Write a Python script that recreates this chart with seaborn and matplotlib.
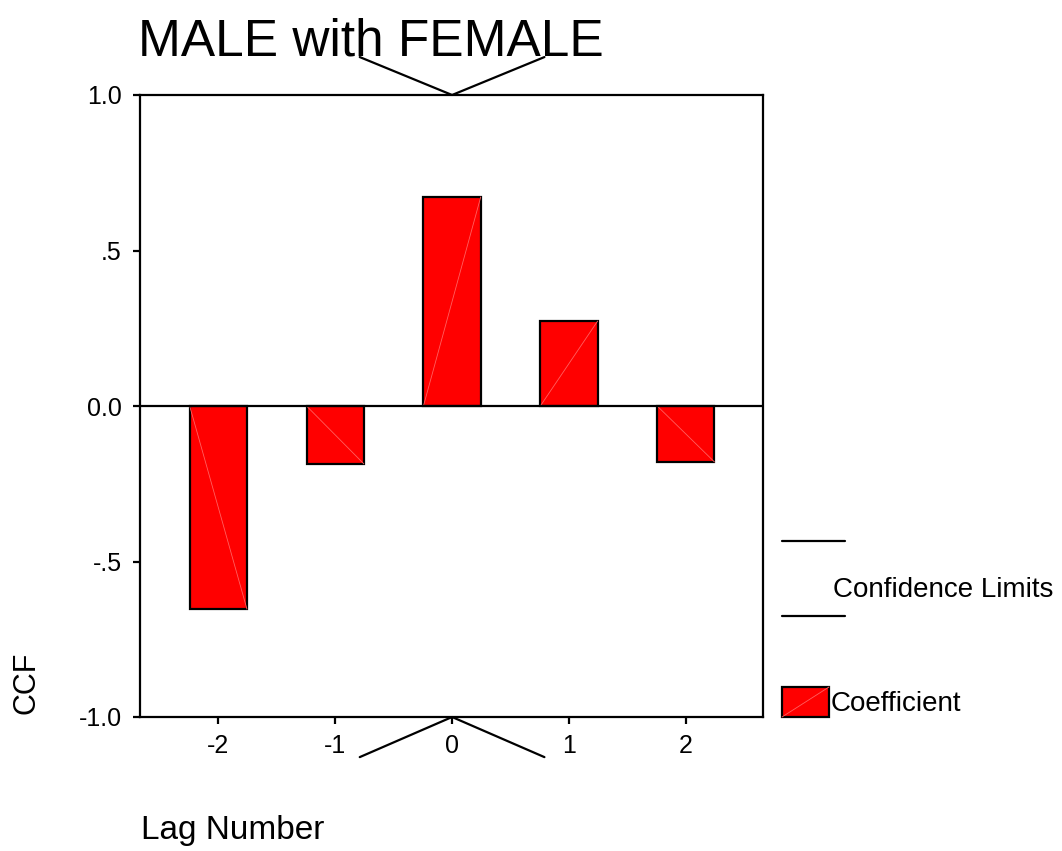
import matplotlib
matplotlib.use("Agg")
import matplotlib.pyplot as plt
import seaborn as sns
import pandas as pd
from matplotlib.lines import Line2D
from matplotlib.patches import Rectangle

# Cross-correlation coefficients by lag
lags = [-2, -1, 0, 1, 2]
ccf = [-0.653, -0.186, 0.672, 0.273, -0.180]

# Confidence limit segments around lag 0
conf_lags = [-0.79, 0.0, 0.79]
conf_upper = [1.122, 1.0, 1.122]
conf_lower = [-1.129, -1.0, -1.129]

y_ticks = [-1.0, -0.5, 0.0, 0.5, 1.0]
y_tick_labels = ["-1.0", "-.5", "0.0", ".5", "1.0"]
x_ticks = [-2, -1, 0, 1, 2]

title = "MALE with FEMALE"
x_label = "Lag Number"
y_label = "CCF"

sns.set_style("white")
plt.rcParams["font.family"] = ["Liberation Sans", "DejaVu Sans"]
plt.rcParams["text.color"] = "black"

W, H = 1062, 851
fig = plt.figure(figsize=(W / 100, H / 100), dpi=100)


def fx(px):
    return px / W


def fy(py):
    return 1 - py / H


ax = fig.add_axes([fx(140), fy(717), fx(763) - fx(140), fy(95) - fy(717)])

df = pd.DataFrame({"lag": lags, "ccf": ccf})
sns.barplot(data=df, x="lag", y="ccf", native_scale=True, width=0.49,
            color="#ff0000", saturation=1, edgecolor="black", linewidth=1.6,
            errorbar=None, ax=ax, zorder=3)

# faint diagonal inside each bar
for p in ax.patches:
    x0 = p.get_x()
    x1 = x0 + p.get_width()
    y0 = p.get_y()
    h = p.get_height()
    ax.plot([x0, x1], [y0, y0 + h], color="#ff6060", lw=0.6, zorder=4)

ax.axhline(0, color="black", lw=1.6, zorder=5)

ax.plot(conf_lags, conf_upper, color="black", lw=1.6, clip_on=False, zorder=6)
ax.plot(conf_lags, conf_lower, color="black", lw=1.6, clip_on=False, zorder=6)

ax.set_xlim(-2.67, 2.66)
ax.set_ylim(-1.0, 1.0)
ax.set_yticks(y_ticks)
ax.set_yticklabels(y_tick_labels)
ax.set_xticks(x_ticks)
ax.set_xticklabels([str(v) for v in x_ticks])
ax.set_xlabel("")
ax.set_ylabel("")

for s in ax.spines.values():
    s.set_visible(True)
    s.set_color("black")
    s.set_linewidth(1.6)
ax.tick_params(axis="both", which="both", direction="out", length=5, width=1.6,
               colors="black", labelcolor="black", labelsize=18, left=True,
               bottom=True, top=False, right=False)
ax.tick_params(axis="y", pad=8)
ax.tick_params(axis="x", pad=7)

fig.text(fx(138), fy(55), title, fontsize=37, ha="left", va="baseline")
fig.text(fx(141), fy(831), x_label, fontsize=24, ha="left", va="center")
fig.text(fx(26), fy(683), y_label, fontsize=22, ha="center", va="center",
         rotation=90)

# Legend
for py in (541, 616):
    fig.add_artist(Line2D([fx(782), fx(845)], [fy(py), fy(py)], color="black",
                          lw=1.6, transform=fig.transFigure))
fig.text(fx(833), fy(590), "Confidence Limits", fontsize=20, ha="left",
         va="center")
fig.add_artist(Rectangle((fx(782), fy(717)), fx(829) - fx(782),
                         fy(687) - fy(717), facecolor="#ff0000",
                         edgecolor="black", lw=1.6, transform=fig.transFigure))
fig.add_artist(Line2D([fx(782), fx(829)], [fy(717), fy(687)], color="#ff6060",
                      lw=0.6, transform=fig.transFigure))
fig.text(fx(831), fy(704), "Coefficient", fontsize=20, ha="left", va="center")

fig.savefig("out.png", dpi=100, facecolor="white")
